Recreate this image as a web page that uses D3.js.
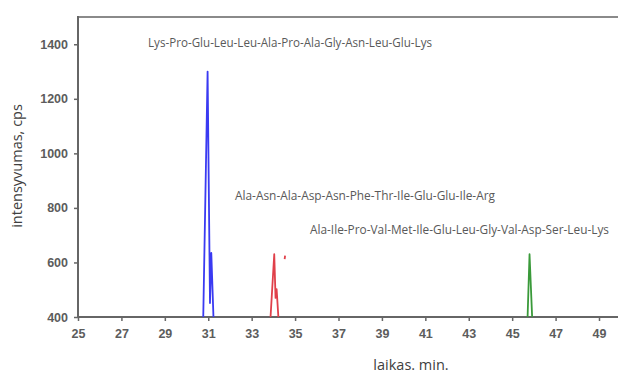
<!DOCTYPE html>
<html>
<head>
<meta charset="utf-8">
<script src="https://cdn.jsdelivr.net/npm/d3@7"></script>
<style>
  body { margin: 0; background: #fff; }
  svg { display: block; }
</style>
</head>
<body>
<svg id="canvas" width="618" height="376"></svg>
<script>
// retention time (min) and intensity (cps)
let blueTime = [30.77, 30.97, 31.08, 31.14, 31.24]
let blueValue = [400, 1300, 451, 635, 400]

let redTime = [33.87, 34.04, 34.1, 34.15, 34.23]
let redValue = [400, 630, 470, 502, 400]
let redDotTime = [34.52, 34.54]
let redDotValue = [612, 625]

let greenTime = [45.71, 45.80, 45.92]
let greenValue = [400, 630, 400]

let xTicks = [25, 27, 29, 31, 33, 35, 37, 39, 41, 43, 45, 47, 49]
let yTicks = [400, 600, 800, 1000, 1200, 1400]

let peptides = [
    "Lys-Pro-Glu-Leu-Leu-Ala-Pro-Ala-Gly-Asn-Leu-Glu-Lys",
    "Ala-Asn-Ala-Asp-Asn-Phe-Thr-Ile-Glu-Glu-Ile-Arg",
    "Ala-Ile-Pro-Val-Met-Ile-Glu-Leu-Gly-Val-Asp-Ser-Leu-Lys"
]

let canvas = d3.select("#canvas")

let plotLeft = 78
let plotTop = 17
let plotBottom = 317
let plotRight = 618

let xScale = d3.scaleLinear().domain([25, 49]).range([plotLeft, 599])
let yScale = d3.scaleLinear().domain([400, 1500]).range([plotBottom, plotTop])

let xAxis = canvas.append("g")
    .attr("transform", "translate(0," + plotBottom + ")")
    .call(d3.axisBottom(xScale).tickValues(xTicks).tickFormat(d3.format("d")).tickSize(4).tickPadding(8).tickSizeOuter(0))

let yAxis = canvas.append("g")
    .attr("transform", "translate(" + plotLeft + ",0)")
    .call(d3.axisLeft(yScale).tickValues(yTicks).tickFormat(d3.format("d")).tickSize(4).tickPadding(6).tickSizeOuter(0))

canvas.selectAll(".domain").remove()
canvas.selectAll(".tick line").style("stroke", "#666").style("stroke-width", "1.5px")
canvas.selectAll(".tick text")
    .style("fill", "#5c5c5c")
    .style("font-family", "'Liberation Sans', Arial, sans-serif")
    .style("font-size", "12.5px")
    .style("font-weight", "bold")

// frame: top border, left and bottom axis lines (drawn as thin filled rects)
let frame = [
    { x: plotLeft, y: plotTop - 1, w: plotRight - plotLeft, h: 2, c: "#8a8a8a" },
    { x: plotLeft - 1, y: plotTop - 1, w: 2, h: plotBottom - plotTop + 2, c: "#666" },
    { x: plotLeft - 1, y: plotBottom - 1, w: plotRight - plotLeft + 1, h: 2, c: "#666" }
]
canvas.selectAll(".frame")
    .data(frame)
    .enter()
    .append("rect")
    .attr("class", "frame")
    .attr("x", (d) => d.x)
    .attr("y", (d) => d.y)
    .attr("width", (d) => d.w)
    .attr("height", (d) => d.h)
    .style("fill", (d) => d.c)

// peaks
let lineGen = d3.line()
    .x((d) => xScale(d[0]))
    .y((d) => yScale(d[1]))

let series = [
    { t: blueTime, v: blueValue, color: "#3a3af2" },
    { t: redTime, v: redValue, color: "#e0404a" },
    { t: redDotTime, v: redDotValue, color: "#e0404a" },
    { t: greenTime, v: greenValue, color: "#3a9a3a" }
]

series.forEach((s) => {
    canvas.append("path")
        .attr("d", lineGen(s.t.map((t, i) => [t, s.v[i]])))
        .style("fill", "none")
        .style("stroke", s.color)
        .style("stroke-width", "1.8px")
        .style("stroke-linejoin", "round")
})

// peptide labels
let labelPos = [[148, 47, 284], [235, 200, 260], [310, 234, 299]]
canvas.selectAll(".peptide")
    .data(peptides)
    .enter()
    .append("text")
    .attr("class", "peptide")
    .attr("x", (d, i) => labelPos[i][0])
    .attr("y", (d, i) => labelPos[i][1])
    .attr("textLength", (d, i) => labelPos[i][2])
    .attr("lengthAdjust", "spacingAndGlyphs")
    .style("fill", "#595959")
    .style("font-family", "'Open Sans', sans-serif")
    .style("font-size", "12px")
    .text((d) => d)

// axis titles
canvas.append("text")
    .attr("transform", "translate(22,166) rotate(-90)")
    .attr("text-anchor", "middle")
    .style("fill", "#404040")
    .style("font-family", "'Open Sans', sans-serif")
    .style("font-size", "14.5px")
    .text("intensyvumas, cps")

canvas.append("text")
    .attr("x", 411)
    .attr("y", 370)
    .attr("text-anchor", "middle")
    .style("fill", "#404040")
    .style("font-family", "'Open Sans', sans-serif")
    .style("font-size", "14.5px")
    .text("laikas. min.")
</script>
</body>
</html>
